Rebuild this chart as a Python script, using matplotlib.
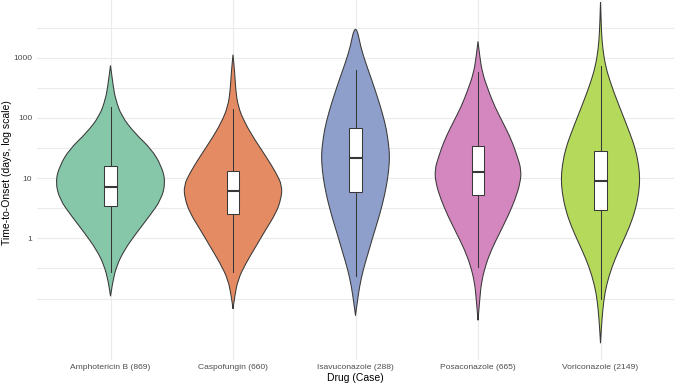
import numpy as np
import matplotlib
matplotlib.use('Agg')
import matplotlib.pyplot as plt
from matplotlib.path import Path
from matplotlib.patches import PathPatch
from matplotlib.ticker import FixedLocator, NullFormatter

plt.rcParams['font.family'] = ['Liberation Sans', 'DejaVu Sans']

# Datos
drugs = ['Amphotericin B (869)', 'Caspofungin (660)', 'Isavuconazole (288)',
         'Posaconazole (665)', 'Voriconazole (2149)']
colors = ['#86C6A9', '#E48B63', '#8E9FCB', '#D486BF', '#B5D95B']

# Perfil de cada violín: niveles en log10(días) y semi-ancho (unidades de categoría)
ampho_log = [-0.96, -0.74, -0.46, -0.19, 0.09, 0.37, 0.65, 0.94, 1.20, 1.48,
             1.75, 2.03, 2.31, 2.53, 2.87]
ampho_w = [0, .016, .049, .114, .212, .318, .416, .449, .416, .335,
           .196, .090, .041, .022, 0]

caspo_log = [-1.17, -0.96, -0.68, -0.41, -0.13, 0.15, 0.42, 0.65, 0.87, 1.09,
             1.36, 1.64, 1.92, 2.19, 2.47, 2.75, 3.05]
caspo_w = [0, .014, .041, .106, .188, .269, .351, .392, .402, .351,
           .269, .177, .096, .041, .022, .014, 0]

isavu_log = [-1.28, -1.07, -0.80, -0.52, -0.24, 0.04, 0.31, 0.59, 0.87, 1.14,
             1.36, 1.53, 1.81, 2.09, 2.36, 2.64, 2.92, 3.19, 3.47]
isavu_w = [0, .014, .033, .063, .104, .144, .185, .223, .253, .272,
           .278, .272, .253, .218, .177, .131, .082, .041, .014]

posa_log = [-1.36, -1.02, -0.74, -0.46, -0.19, 0.09, 0.37, 0.65, 0.92, 1.14,
            1.36, 1.64, 1.92, 2.19, 2.47, 2.75, 3.03, 3.27]
posa_w = [0, .014, .027, .060, .109, .177, .245, .304, .345, .353,
          .321, .272, .204, .136, .082, .035, .014, 0]

vori_log = [-1.74, -1.46, -1.18, -0.91, -0.63, -0.35, -0.08, 0.20, 0.48, 0.76,
            0.98, 1.20, 1.48, 1.75, 2.03, 2.31, 2.58, 2.86, 3.14, 3.41, 3.92]
vori_w = [0, .008, .019, .035, .068, .117, .177, .239, .286, .313,
          .321, .313, .286, .239, .185, .131, .082, .041, .019, .008, 0]

# Estadísticos del boxplot (días)
whis_lo = [0.28, 0.28, 0.24, 0.34, 0.10]
q1 = [3.4, 2.5, 5.8, 5.2, 2.9]
median = [7.2, 6.1, 21.7, 12.5, 8.9]
q3 = [15.8, 13.0, 66.7, 33.9, 28.7]
whis_hi = [152, 138, 620, 574, 741]

profiles = [(ampho_log, ampho_w), (caspo_log, caspo_w), (isavu_log, isavu_w),
            (posa_log, posa_w), (vori_log, vori_w)]


# Contorno suave (curvas cuadráticas) en espacio log y luego a días
def violin_path(center, levels, widths):
    xs = [center + w for w in widths] + [center - w for w in widths[::-1]]
    ys = list(levels) + list(levels[::-1])
    pts = np.column_stack([xs, ys])

    verts = [pts[0]]
    codes = [Path.MOVETO]
    for i in range(1, len(pts) - 1):
        mid = (pts[i] + pts[i + 1]) / 2
        verts += [pts[i], mid]
        codes += [Path.CURVE3, Path.CURVE3]
    verts.append(pts[-1])
    codes.append(Path.LINETO)
    verts = np.array(verts)
    verts[:, 1] = 10 ** verts[:, 1]
    return Path(verts, codes)


fig = plt.figure(figsize=(6.76, 3.87), dpi=100)
# el panel sobresale un poco por arriba (como en la imagen original)
ax = fig.add_axes([37 / 676, 27 / 387, 637 / 676, 374 / 387])

ax.set_yscale('log')
ax.set_xlim(0.4, 5.6)
ax.set_ylim(10 ** -2.02, 10 ** 4.19)

positions = np.arange(1, len(drugs) + 1)

for pos, (levels, widths), color in zip(positions, profiles, colors):
    patch = PathPatch(violin_path(pos, levels, widths), facecolor=color,
                      edgecolor='#383838', linewidth=0.75, zorder=2)
    ax.add_patch(patch)

stats = []
for i, name in enumerate(drugs):
    stats.append({'label': name, 'whislo': whis_lo[i], 'q1': q1[i],
                  'med': median[i], 'q3': q3[i], 'whishi': whis_hi[i],
                  'fliers': []})

ax.bxp(stats, positions=positions, widths=0.1, showfliers=False,
       showcaps=False, patch_artist=True,
       boxprops=dict(facecolor='white', edgecolor='#383838', linewidth=0.75),
       medianprops=dict(color='#383838', linewidth=1.5),
       whiskerprops=dict(color='#383838', linewidth=0.75),
       zorder=3)

# Ejes y rejilla (estilo minimal)
ax.yaxis.set_major_locator(FixedLocator([1, 10, 100, 1000]))
ax.set_yticklabels(['1', '10', '100', '1000'])
ax.yaxis.set_minor_locator(FixedLocator([10 ** k for k in [-1, -0.5, 0.5, 1.5, 2.5, 3.5, 4]]))
ax.yaxis.set_minor_formatter(NullFormatter())
ax.set_xticks(positions)
ax.set_xticklabels(drugs)

ax.grid(True, which='major', color='#EBEBEB', linewidth=0.8, zorder=0)
ax.grid(True, which='minor', axis='y', color='#EBEBEB', linewidth=0.8, zorder=0)
ax.set_axisbelow(True)

for spine in ax.spines.values():
    spine.set_visible(False)

ax.tick_params(which='both', length=0)
ax.tick_params(axis='x', labelsize=6.1, labelcolor='#4D4D4D', pad=3)
ax.tick_params(axis='y', labelsize=6.1, labelcolor='#4D4D4D', pad=3.5)

ax.set_xlabel('Drug (Case)', fontsize=7.5, labelpad=1.5)
ax.set_ylabel('Time-to-Onset (days, log scale)', fontsize=7.5)
ax.yaxis.set_label_coords(-24.5 / 637, 0.5)

fig.savefig('out.png', dpi=100)
